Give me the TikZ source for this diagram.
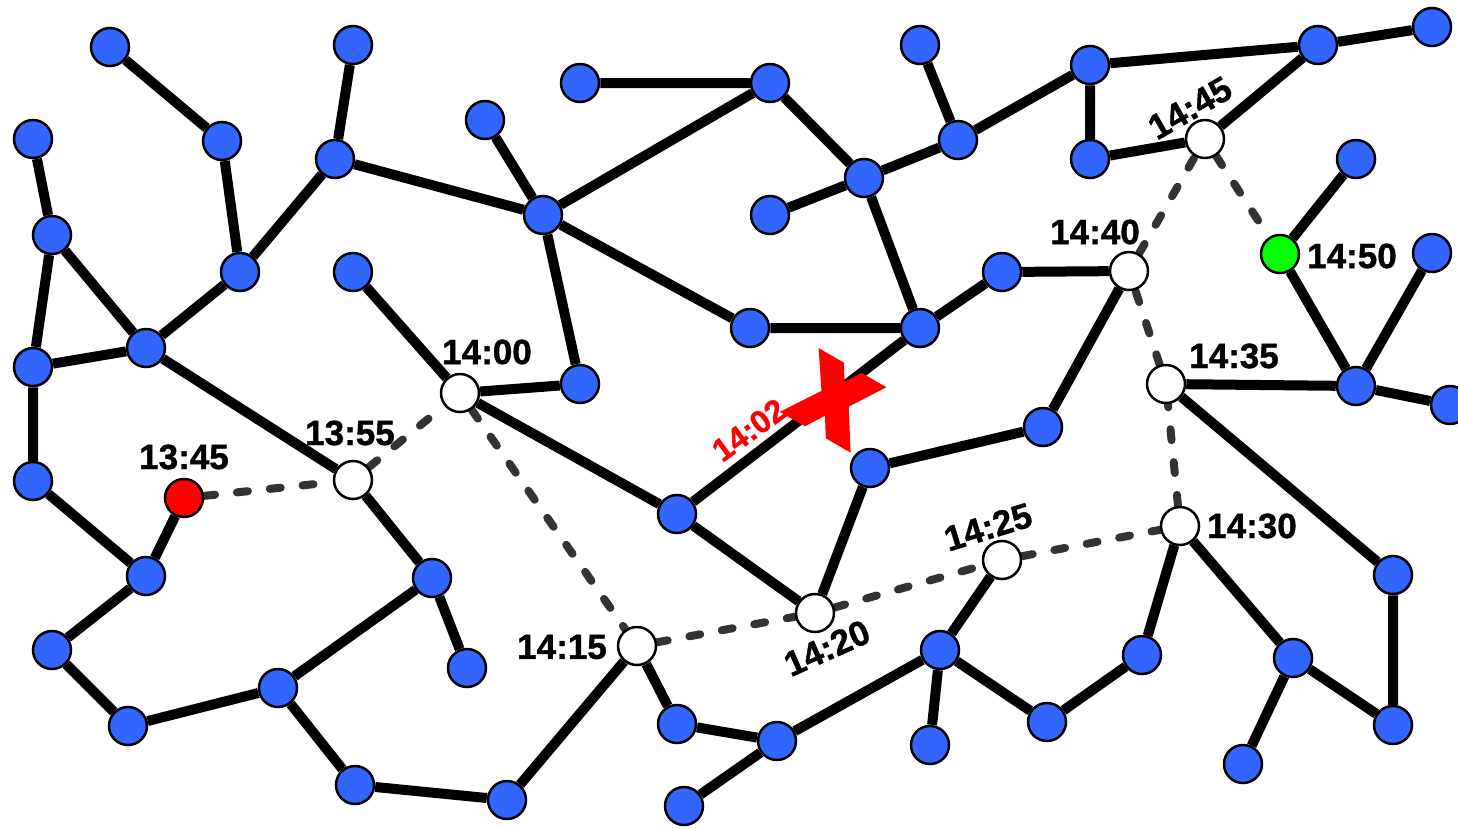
\documentclass[tikz,border=0pt]{standalone}
\usepackage{fontspec}
\setmainfont{Liberation Sans}
\newfontfamily\lblfont{Liberation Sans Bold}[FakeBold=1.2]
\newfontfamily\xfont{Liberation Sans Bold}[FakeBold=14]
\usetikzlibrary{backgrounds}
\definecolor{nblue}{HTML}{3366FF}
\definecolor{ngreen}{HTML}{00FF00}
\definecolor{nred}{HTML}{FF0000}
\definecolor{dgray}{HTML}{333333}
\tikzset{
  bnode/.style={circle, draw=black, line width=2.5pt, fill=nblue, minimum size=38pt, inner sep=0pt},
  wnode/.style={bnode, fill=white},
  rnode/.style={bnode, fill=nred},
  gnode/.style={bnode, fill=ngreen},
  road/.style={line width=10pt, black},
  route/.style={line width=8pt, dgray, line cap=round, dash pattern=on 11pt off 22pt},
  tlabel/.style={font=\lblfont\fontsize{35}{35}\selectfont, inner sep=0pt, text=black},
}
\begin{document}
\begin{tikzpicture}[x=1pt,y=-1pt]
\useasboundingbox (0,0) rectangle (1458,828);
% blue nodes
\node[bnode] (n1) at (110,47) {};
\node[bnode] (n2) at (222,141) {};
\node[bnode] (n3) at (353,45) {};
\node[bnode] (n4) at (335,159) {};
\node[bnode] (n5) at (33,139) {};
\node[bnode] (n6) at (52,235) {};
\node[bnode] (n7) at (240,272) {};
\node[bnode] (n8) at (146,348) {};
\node[bnode] (n9) at (33,367) {};
\node[bnode] (n10) at (33,481) {};
\node[bnode] (n11) at (146,576) {};
\node[bnode] (n12) at (52,650) {};
\node[bnode] (n13) at (128,726) {};
\node[bnode] (n14) at (278,688) {};
\node[bnode] (n15) at (355,785) {};
\node[bnode] (n16) at (507,800) {};
\node[bnode] (n17) at (432,578) {};
\node[bnode] (n18) at (467,668) {};
\node[bnode] (n19) at (353,272) {};
\node[bnode] (n20) at (580,384) {};
\node[bnode] (n21) at (485,120) {};
\node[bnode] (n22) at (543,215) {};
\node[bnode] (n23) at (580,83) {};
\node[bnode] (n24) at (770,83) {};
\node[bnode] (n25) at (750,328) {};
\node[bnode] (n26) at (864,178) {};
\node[bnode] (n27) at (770,215) {};
\node[bnode] (n28) at (920,45) {};
\node[bnode] (n29) at (958,140) {};
\node[bnode] (n30) at (920,328) {};
\node[bnode] (n31) at (1002,272) {};
\node[bnode] (n32) at (677,514) {};
\node[bnode] (n33) at (870,468) {};
\node[bnode] (n34) at (1043,427) {};
\node[bnode] (n35) at (1090,65) {};
\node[bnode] (n36) at (1090,159) {};
\node[bnode] (n37) at (1318,45) {};
\node[bnode] (n38) at (1432,27) {};
\node[bnode] (n39) at (1356,159) {};
\node[bnode] (n40) at (1432,253) {};
\node[bnode] (n41) at (1356,386) {};
\node[bnode] (n42) at (1450,405) {};
\node[bnode] (n43) at (1393,575) {};
\node[bnode] (n44) at (1393,725) {};
\node[bnode] (n45) at (1293,658) {};
\node[bnode] (n46) at (1243,764) {};
\node[bnode] (n47) at (1142,655) {};
\node[bnode] (n48) at (1047,722) {};
\node[bnode] (n49) at (940,650) {};
\node[bnode] (n50) at (930,745) {};
\node[bnode] (n51) at (777,741) {};
\node[bnode] (n52) at (677,724) {};
\node[bnode] (n53) at (684,806) {};
% special nodes
\node[rnode] (r) at (184,498) {};
\node[gnode] (g) at (1280,254) {};
\node[wnode] (w1355) at (353,480) {};
\node[wnode] (w1400) at (460,393) {};
\node[wnode] (w1415) at (637,646) {};
\node[wnode] (w1420) at (815,613) {};
\node[wnode] (w1425) at (1002,560) {};
\node[wnode] (w1430) at (1180,526) {};
\node[wnode] (w1435) at (1166,384) {};
\node[wnode] (w1440) at (1129,271) {};
\node[wnode] (w1445) at (1205,139) {};
\begin{pgfonlayer}{background}
\draw[road] (n1)--(n2) (n2)--(n7) (n3)--(n4) (n4)--(n7) (n4)--(n22)
  (n7)--(n8) (n5)--(n6) (n6)--(n9) (n6)--(n8) (n8)--(n9) (n8)--(w1355)
  (n9)--(n10) (n10)--(n11) (n11)--(r) (n11)--(n12) (n12)--(n13) (n13)--(n14)
  (n14)--(n17) (n14)--(n15) (n15)--(n16) (n16)--(w1415) (n17)--(w1355) (n17)--(n18)
  (n19)--(w1400) (w1400)--(n20) (w1400)--(n32) (n32)--(n30) (n32)--(w1420)
  (n21)--(n22) (n22)--(n24) (n22)--(n20) (n22)--(n25) (n23)--(n24) (n24)--(n26)
  (n26)--(n27) (n26)--(n29) (n26)--(n30) (n25)--(n30) (n28)--(n29) (n29)--(n35)
  (n30)--(n31) (n31)--(w1440) (w1440)--(n34) (n34)--(n33) (n33)--(w1420)
  (n35)--(n37) (n35)--(n36) (n36)--(w1445) (w1445)--(n37) (n37)--(n38)
  (g)--(n39) (g)--(n41) (n40)--(n41) (n41)--(n42) (w1435)--(n41) (w1435)--(n43)
  (n43)--(n44) (n44)--(n45) (n45)--(n46) (n45)--(w1430) (w1430)--(n47)
  (n47)--(n48) (n48)--(n49) (n49)--(n50) (n49)--(w1425) (n49)--(n51)
  (n51)--(n52) (n51)--(n53) (n52)--(w1415);
\draw[route] (r)--(w1355);
\draw[route] (w1355)--(w1400);
\draw[route] (w1400)--(w1415);
\draw[route] (w1415)--(w1420);
\draw[route] (w1420)--(w1425);
\draw[route] (w1425)--(w1430);
\draw[route] (w1430)--(w1435);
\draw[route] (w1435)--(w1440);
\draw[route] (w1440)--(w1445);
\draw[route] (w1445)--(g);
\end{pgfonlayer}
% labels
\node[tlabel] (l1345) at (184,457) {13:45};
\node[tlabel] (l1355) at (350,433) {13:55};
\node[tlabel] (l1400) at (487,352) {14:00};
\node[tlabel] (l1415) at (562,647) {14:15};
\node[tlabel, rotate=24] (l1420) at (827,648) {14:20};
\node[tlabel, rotate=17] (l1425) at (988,527) {14:25};
\node[tlabel] (l1430) at (1252,526) {14:30};
\node[tlabel] (l1435) at (1234,356) {14:35};
\node[tlabel] (l1440) at (1095,232) {14:40};
\node[tlabel, rotate=30] (l1445) at (1190,108) {14:45};
\node[tlabel] (l1450) at (1352,256) {14:50};
\node[tlabel, text=nred, rotate=36, font=\lblfont\fontsize{32}{32}\selectfont] (l1402) at (749,430) {14:02};
\node[text=nred, inner sep=0pt, rotate=-30, font=\xfont\fontsize{90}{90}\selectfont] (xmark) at (834,400) {X};
\end{tikzpicture}
\end{document}
